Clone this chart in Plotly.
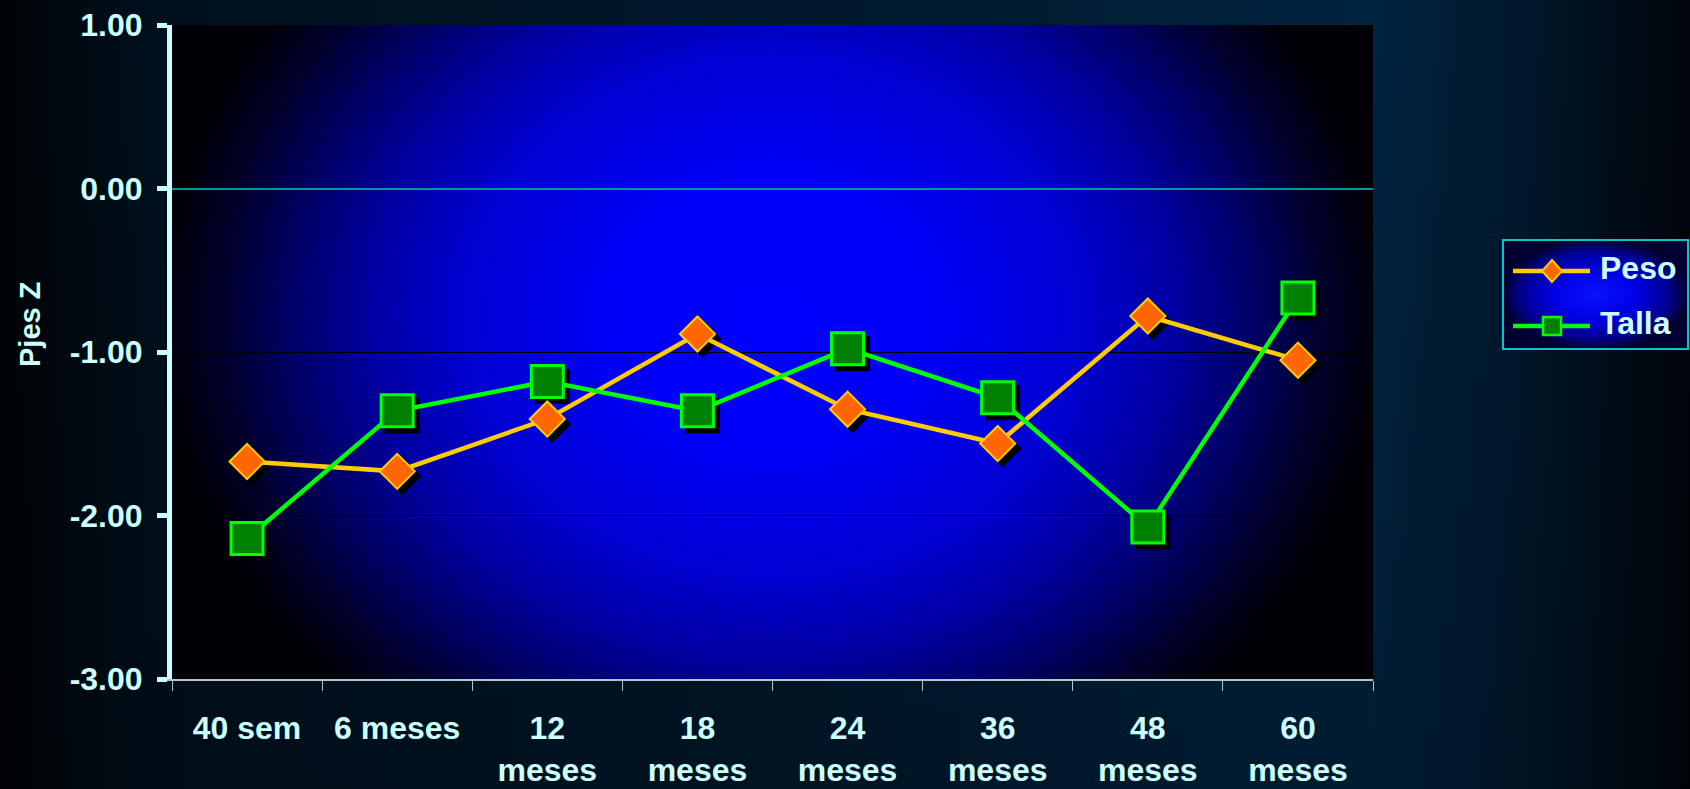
import base64
import plotly.graph_objects as go

# ---- data ----
categorias = ["40 sem", "6 meses", "12<br>meses", "18<br>meses", "24<br>meses",
              "36<br>meses", "48<br>meses", "60<br>meses"]
peso = [-1.67, -1.73, -1.41, -0.89, -1.35, -1.56, -0.78, -1.05]
talla = [-2.14, -1.36, -1.18, -1.36, -0.98, -1.28, -2.07, -0.67]
series_nombres = ["Peso", "Talla"]
y_ticks = [1, 0, -1, -2, -3]
y_tick_labels = ["1.00", "0.00", "-1.00", "-2.00", "-3.00"]
y_titulo = "Pjes Z"

# ---- geometry ----
W, H = 1690, 789
M_L, M_R, M_T, M_B = 172, 317, 25, 110
PW = W - M_L - M_R
PH = H - M_T - M_B
Y_MIN, Y_MAX = -3, 1
X_MIN, X_MAX = -0.5, len(categorias) - 0.5

TXT = "#ccffff"
FONT = "Liberation Sans, Arial, sans-serif"

PESO_LINE, PESO_FILL = "#ffcc00", "#ff6600"
TALLA_LINE, TALLA_FILL = "#00ff00", "#008000"


def px_x(px):
    return (px - M_L) / PW


def px_y(py):
    return (H - M_B - py) / PH


def svg_uri(w, h, content):
    svg = (f'<svg xmlns="http://www.w3.org/2000/svg" width="{w}" height="{h}" '
           f'viewBox="0 0 {w} {h}" preserveAspectRatio="none">{content}</svg>')
    return "data:image/svg+xml;base64," + base64.b64encode(svg.encode()).decode()


def stops(pairs):
    return "".join(f'<stop offset="{o}" stop-color="{c}"/>' for o, c in pairs)


# page background: dark navy, brightest just right of the plot
page_svg = svg_uri(W, H, (
    '<defs><linearGradient id="h" x1="0" y1="0" x2="1" y2="0">'
    + stops([(0, "#000306"), (0.09, "#00101d"), (0.5, "#00192d"),
             (0.815, "#00233f"), (0.9, "#00182c"), (1, "#00050a")])
    + '</linearGradient>'
    '<linearGradient id="v" x1="0" y1="0" x2="0" y2="1">'
    '<stop offset="0" stop-color="#000" stop-opacity="0"/>'
    '<stop offset="1" stop-color="#000" stop-opacity="0.2"/></linearGradient></defs>'
    f'<rect width="{W}" height="{H}" fill="url(#h)"/>'
    f'<rect width="{W}" height="{H}" fill="url(#v)"/>'
))

# plot area: blue glow fading to black at the edges
cx, cy, rx, ry = 600, 290, 610, 520
plot_svg = svg_uri(PW, PH, (
    f'<defs><radialGradient id="g" gradientUnits="userSpaceOnUse" cx="{cx}" '
    f'cy="{cy * rx / ry:.1f}" r="{rx}" gradientTransform="scale(1,{ry / rx:.4f})">'
    + stops([(0, "#0000ff"), (0.25, "#0000fa"), (0.5, "#0000d2"), (0.65, "#0000a5"),
             (0.78, "#00006a"), (0.9, "#00002c"), (1, "#000006")])
    + '</radialGradient></defs>'
    f'<rect width="{PW}" height="{PH}" fill="url(#g)"/>'
))

# legend box
LG_X0, LG_X1, LG_Y0, LG_Y1 = 1503, 1688, 240, 349
legend_svg = svg_uri(LG_X1 - LG_X0, LG_Y1 - LG_Y0, (
    '<defs><radialGradient id="l" cx="0.5" cy="0.5" r="0.5">'
    + stops([(0, "#0a12ff"), (0.45, "#0000e6"), (0.8, "#000090"), (1, "#000030")])
    + '</radialGradient></defs>'
    f'<rect width="{LG_X1 - LG_X0}" height="{LG_Y1 - LG_Y0}" fill="url(#l)"/>'
))

fig = go.Figure()

# drop shadows of the markers (axes shifted a few pixels right/down)
SH_DX, SH_DY = 5, 5
dx = SH_DX * (X_MAX - X_MIN) / PW
dy = SH_DY * (Y_MAX - Y_MIN) / PH
for vals, sym, size, lw in [(peso, "diamond", 27, 2), (talla, "square", 32, 3)]:
    fig.add_trace(go.Scatter(
        x=categorias, y=vals, mode="markers", hoverinfo="skip", showlegend=False,
        marker=dict(symbol=sym, size=size, color="#000000",
                    line=dict(color="#000000", width=lw)),
        xaxis="x", yaxis="y"))

fig.add_trace(go.Scatter(
    x=categorias, y=peso, name=series_nombres[0], mode="lines+markers",
    line=dict(color=PESO_LINE, width=4.5),
    marker=dict(symbol="diamond", size=27, color=PESO_FILL,
                line=dict(color=PESO_LINE, width=2)),
    xaxis="x2", yaxis="y2"))
fig.add_trace(go.Scatter(
    x=categorias, y=talla, name=series_nombres[1], mode="lines+markers",
    line=dict(color=TALLA_LINE, width=4.5),
    marker=dict(symbol="square", size=32, color=TALLA_FILL,
                line=dict(color=TALLA_LINE, width=3)),
    xaxis="x2", yaxis="y2"))

tick_font = dict(family=FONT, size=32, color=TXT, weight="bold")

# legend drawn as shapes + annotations
shapes = [dict(type="rect", xref="paper", yref="paper",
               x0=px_x(LG_X0), x1=px_x(LG_X1), y0=px_y(LG_Y1), y1=px_y(LG_Y0),
               line=dict(color="#00c8c8", width=2), fillcolor="rgba(0,0,0,0)")]
annotations = [dict(xref="paper", yref="paper", x=px_x(30), y=px_y(325),
                    xanchor="center", yanchor="middle", showarrow=False, textangle=-90,
                    text=y_titulo,
                    font=dict(family=FONT, size=29, color=TXT, weight="bold"))]
legend_rows = [(series_nombres[0], 271, PESO_LINE, PESO_FILL, "M0,11 L10,0 L0,-11 L-10,0 Z", 2),
               (series_nombres[1], 326, TALLA_LINE, TALLA_FILL, "M-9,-9 H9 V9 H-9 Z", 2.5)]
for name, ly, lc, fc, path, mlw in legend_rows:
    shapes.append(dict(type="line", xref="paper", yref="paper",
                       x0=px_x(1513), x1=px_x(1590), y0=px_y(ly), y1=px_y(ly),
                       line=dict(color=lc, width=4.5)))
    shapes.append(dict(type="path", xref="paper", yref="paper",
                       xsizemode="pixel", ysizemode="pixel",
                       xanchor=px_x(1552), yanchor=px_y(ly), path=path,
                       fillcolor=fc, line=dict(color=lc, width=mlw)))
    annotations.append(dict(xref="paper", yref="paper", x=px_x(1598), y=px_y(ly - 3),
                            xanchor="left", yanchor="middle", showarrow=False,
                            text=name, font=tick_font))

fig.update_layout(
    width=W, height=H,
    margin=dict(l=M_L, r=M_R, t=M_T, b=M_B, pad=0, autoexpand=False),
    paper_bgcolor="#000a14", plot_bgcolor="rgba(0,0,0,0)",
    showlegend=False,
    images=[
        dict(source=page_svg, xref="paper", yref="paper", x=-M_L / PW, y=1 + M_T / PH,
             sizex=W / PW, sizey=H / PH, xanchor="left", yanchor="top",
             sizing="stretch", layer="below"),
        dict(source=plot_svg, xref="paper", yref="paper", x=0, y=1, sizex=1, sizey=1,
             xanchor="left", yanchor="top", sizing="stretch", layer="below"),
        dict(source=legend_svg, xref="paper", yref="paper", x=px_x(LG_X0), y=px_y(LG_Y0),
             sizex=(LG_X1 - LG_X0) / PW, sizey=(LG_Y1 - LG_Y0) / PH,
             xanchor="left", yanchor="top", sizing="stretch", layer="below"),
    ],
    shapes=shapes,
    annotations=annotations,
    xaxis=dict(visible=False, type="category", range=[X_MIN - dx, X_MAX - dx],
               fixedrange=True, automargin=False),
    yaxis=dict(visible=False, range=[Y_MIN + dy, Y_MAX + dy], fixedrange=True,
               automargin=False),
    xaxis2=dict(overlaying="x", anchor="y2", side="bottom", type="category",
                range=[X_MIN, X_MAX], tickson="boundaries",
                showline=True, linecolor="#a8cccc", linewidth=1.5,
                ticks="outside", ticklen=10, tickwidth=1.2, tickcolor="#a8cccc",
                showgrid=False, zeroline=False, tickfont=tick_font,
                ticklabelstandoff=20, fixedrange=True, automargin=False),
    yaxis2=dict(overlaying="y", anchor="x2", side="left", range=[Y_MIN, Y_MAX],
                tickvals=y_ticks, ticktext=y_tick_labels,
                showline=True, linecolor=TXT, linewidth=5,
                ticks="outside", ticklen=10, tickwidth=5, tickcolor=TXT,
                showgrid=True, gridcolor="#000000", gridwidth=1,
                zeroline=True, zerolinecolor="#009999", zerolinewidth=2,
                tickfont=tick_font, ticklabelstandoff=8,
                fixedrange=True, automargin=False),
)

fig.write_html("out.html", config={"displayModeBar": False})
